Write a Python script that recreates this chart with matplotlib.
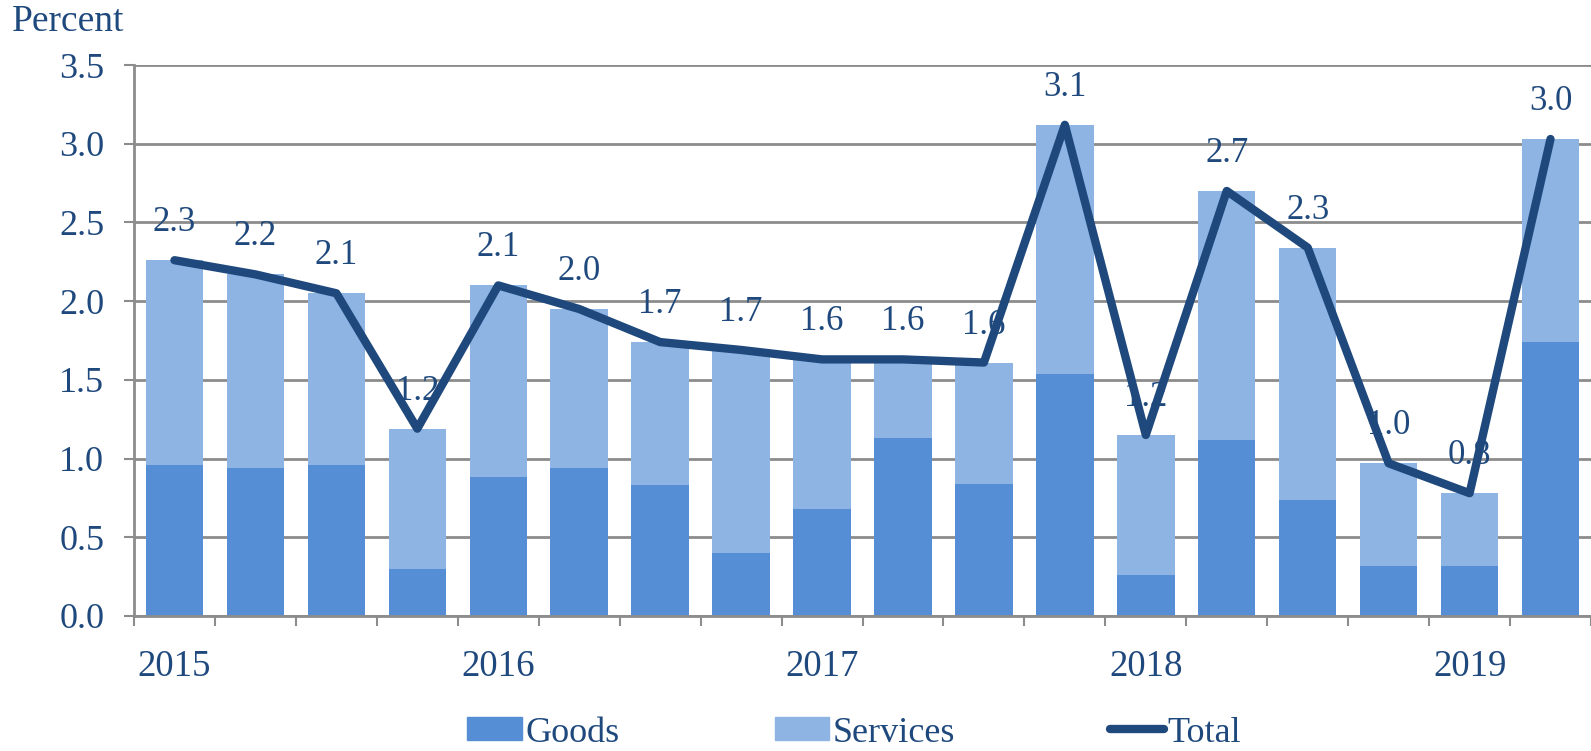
import numpy as np
import matplotlib.pyplot as plt
from matplotlib.lines import Line2D
from matplotlib.patches import Patch

# Data (quarterly, 2015Q1 - 2019Q2)
years = ['2015', '2016', '2017', '2018', '2019']
goods = [0.96, 0.94, 0.96, 0.30, 0.88, 0.94, 0.83, 0.40, 0.68,
         1.13, 0.84, 1.54, 0.26, 1.12, 0.74, 0.32, 0.32, 1.74]
total = [2.26, 2.17, 2.05, 1.19, 2.10, 1.95, 1.74, 1.69, 1.63,
         1.63, 1.61, 3.12, 1.15, 2.70, 2.34, 0.97, 0.78, 3.03]
total_labels = ['2.3', '2.2', '2.1', '1.2', '2.1', '2.0', '1.7', '1.7', '1.6',
                '1.6', '1.6', '3.1', '1.2', '2.7', '2.3', '1.0', '0.8', '3.0']
services = [t - g for t, g in zip(total, goods)]

c_goods = '#558ED5'
c_serv = '#8EB4E3'
c_line = '#1F497D'
c_text = '#1F497D'
c_grid = '#8C8C8C'

plt.rcParams['font.family'] = ['Liberation Serif', 'DejaVu Serif']

fig = plt.figure(figsize=(15.91, 7.51), dpi=100)
ax = fig.add_axes([134 / 1591, 1 - 616 / 751, 1 - 134 / 1591, (616 - 65) / 751])

x = np.arange(len(goods))
w = 0.71
ax.bar(x, goods, width=w, color=c_goods, zorder=2)
ax.bar(x, services, width=w, bottom=goods, color=c_serv, zorder=2)
ax.plot(x, total, color=c_line, lw=6, solid_joinstyle='round', solid_capstyle='round', zorder=4)

for xi, yi, lab in zip(x, total, total_labels):
    ax.annotate(lab, (xi, yi), xytext=(0, 27), textcoords='offset points',
                ha='center', va='center', fontsize=25, color=c_text, zorder=3)

ax.set_xlim(-0.5, len(goods) - 0.5)
ax.set_ylim(0, 3.5)
ax.set_yticks(np.arange(0, 3.51, 0.5))
ax.set_yticklabels(['%.1f' % v for v in np.arange(0, 3.51, 0.5)])
ax.yaxis.grid(True, color=c_grid, lw=2, zorder=0)
ax.set_axisbelow(True)

# category boundary ticks, year labels at Q1 positions
ax.set_xticks(np.arange(-0.5, len(goods), 1))
ax.set_xticklabels([])
ax.set_xticks(np.arange(0, len(goods), 4), minor=True)
ax.set_xticklabels(years, minor=True)
ax.tick_params(axis='x', which='major', length=7.5, width=1.5, color=c_grid, direction='out')
ax.tick_params(axis='x', which='minor', length=0, pad=24, labelsize=26.5, labelcolor=c_text)
ax.tick_params(axis='y', length=7.5, width=1.5, color=c_grid, pad=14, labelsize=26, labelcolor=c_text)

for s in ['top', 'right']:
    ax.spines[s].set_visible(False)
for s in ['left', 'bottom']:
    ax.spines[s].set_color(c_grid)
    ax.spines[s].set_linewidth(2)

fig.text(12 / 1591, 1 - 22 / 751, 'Percent', fontsize=27, color=c_text, va='center', ha='left')

handles = [Patch(color=c_goods), Patch(color=c_serv), Line2D([], [], color=c_line, lw=6, solid_capstyle='round')]
leg = fig.legend(handles, ['Goods', 'Services', 'Total'], loc='center', ncol=3,
                 bbox_to_anchor=(0.537, 1 - 733 / 751), frameon=False, fontsize=26,
                 handlelength=1.5, handleheight=0.6, handletextpad=0.1, columnspacing=4.3)
for t in leg.get_texts():
    t.set_color(c_text)

fig.savefig('out.png', dpi=100)
